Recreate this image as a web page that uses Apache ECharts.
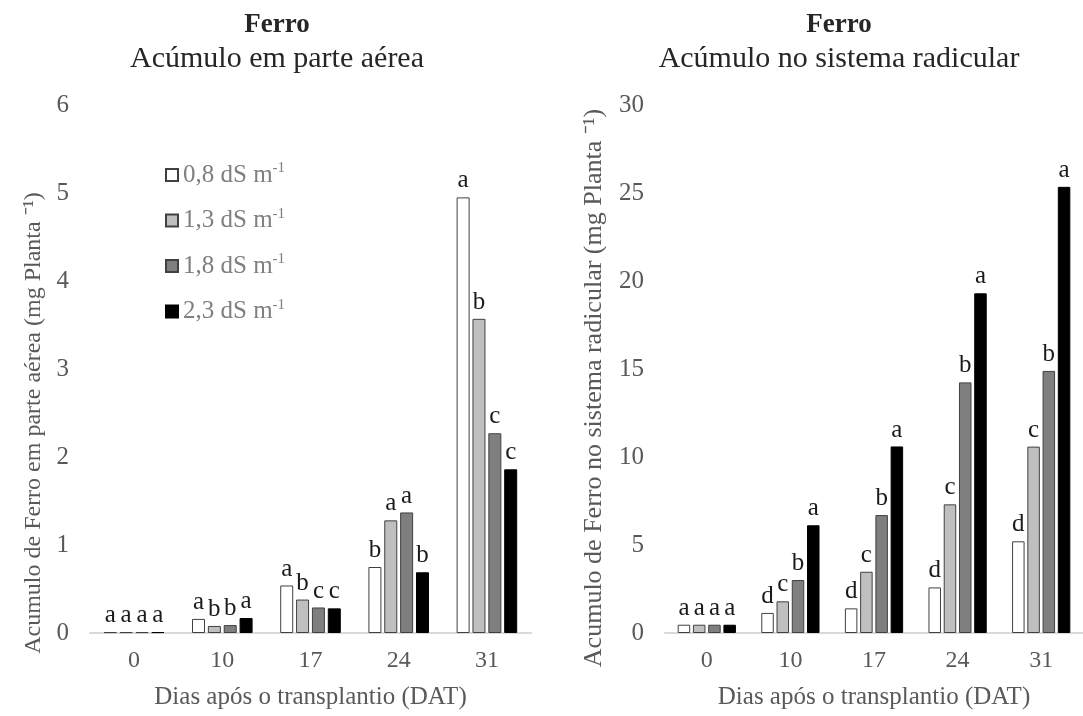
<!DOCTYPE html>
<html>
<head>
<meta charset="utf-8">
<script src="https://cdn.jsdelivr.net/npm/echarts@6/dist/echarts.min.js"></script>
<style>html,body{margin:0;padding:0;background:#fff}#c{width:1083px;height:716px}</style>
</head>
<body>
<div id="c"></div>
<script>
const categories = ['0', '10', '17', '24', '31'];
const seriesNames = ['0,8 dS m-1', '1,3 dS m-1', '1,8 dS m-1', '2,3 dS m-1'];

// Shoot (parte aérea) Fe accumulation, mg/plant
const shoot08 = [0.01, 0.16, 0.54, 0.75, 4.95];
const shoot13 = [0.01, 0.08, 0.38, 1.28, 3.57];
const shoot18 = [0.01, 0.09, 0.29, 1.37, 2.27];
const shoot23 = [0.01, 0.17, 0.28, 0.69, 1.86];
const shootLetters08 = ['a', 'a', 'a', 'b', 'a'];
const shootLetters13 = ['a', 'b', 'b', 'a', 'b'];
const shootLetters18 = ['a', 'b', 'c', 'a', 'c'];
const shootLetters23 = ['a', 'a', 'c', 'b', 'c'];

// Root (sistema radicular) Fe accumulation, mg/plant
const root08 = [0.47, 1.14, 1.40, 2.59, 5.21];
const root13 = [0.47, 1.80, 3.48, 7.31, 10.59];
const root18 = [0.47, 3.01, 6.70, 14.24, 14.89];
const root23 = [0.47, 6.12, 10.60, 19.30, 25.35];
const rootLetters08 = ['a', 'd', 'd', 'd', 'd'];
const rootLetters13 = ['a', 'c', 'c', 'c', 'c'];
const rootLetters18 = ['a', 'b', 'b', 'b', 'b'];
const rootLetters23 = ['a', 'a', 'a', 'a', 'a'];

const shootTicks = [0, 6, 1];
const rootTicks = [0, 30, 5];

const fills = ['#ffffff', '#bfbfbf', '#7f7f7f', '#000000'];
const borders = ['#404040', '#404040', '#404040', '#000000'];

const FONT = '"Liberation Serif", "Times New Roman", serif';

function mkSeries(name, idx, data, letters, axisIndex, bw) {
  return {
    type: 'bar',
    name: name,
    xAxisIndex: axisIndex,
    yAxisIndex: axisIndex,
    data: data,
    barWidth: bw,
    barGap: '22%',
    itemStyle: { color: fills[idx], borderColor: borders[idx], borderWidth: 1 },
    label: {
      show: true,
      position: 'top',
      distance: 4,
      fontFamily: FONT,
      fontSize: 25,
      color: '#1a1a1a',
      formatter: function (p) { return letters[p.dataIndex]; }
    },
    emphasis: { disabled: true },
    animation: false
  };
}

function xAx(gi) {
  return {
    type: 'category',
    gridIndex: gi,
    data: categories,
    axisLine: { lineStyle: { color: '#d9d9d9', width: 2 } },
    axisTick: { show: false },
    axisLabel: { fontFamily: FONT, fontSize: 24, color: '#595959', margin: 16 },
    name: 'Dias após o transplantio (DAT)',
    nameLocation: 'middle',
    nameGap: 52,
    nameTextStyle: { fontFamily: FONT, fontSize: 25, color: '#595959' }
  };
}
function yAx(gi, t) {
  return {
    type: 'value',
    gridIndex: gi,
    min: t[0], max: t[1], interval: t[2],
    axisLine: { show: false },
    axisTick: { show: false },
    splitLine: { show: false },
    axisLabel: { fontFamily: FONT, fontSize: 25, color: '#595959', margin: 21 }
  };
}

const chart = echarts.init(document.getElementById('c'), null, { renderer: 'canvas' });
chart.setOption({
  backgroundColor: '#fff',
  animation: false,
  title: [
    { text: 'Ferro', subtext: 'Acúmulo em parte aérea', left: 272, top: 7, textAlign: 'center', itemGap: 5,
      textStyle: { fontFamily: FONT, fontSize: 27, fontWeight: 'bold', color: '#262626' },
      subtextStyle: { fontFamily: FONT, fontSize: 30, color: '#262626' } },
    { text: 'Ferro', subtext: 'Acúmulo no sistema radicular', left: 834, top: 7, textAlign: 'center', itemGap: 5,
      textStyle: { fontFamily: FONT, fontSize: 27, fontWeight: 'bold', color: '#262626' },
      subtextStyle: { fontFamily: FONT, fontSize: 30, color: '#262626' } }
  ],
  legend: {
    orient: 'vertical',
    left: 160,
    top: 156,
    itemWidth: 12,
    itemHeight: 12,
    itemGap: 19,
    icon: 'rect',
    data: seriesNames,
    selectedMode: false,
    formatter: function (n) { const p = n.split(' m-1'); return '{t|' + p[0] + ' m}{s|-1}'; },
    textStyle: {
      rich: {
        t: { fontFamily: FONT, fontSize: 25, color: '#7f7f7f' },
        s: { fontFamily: FONT, fontSize: 15, color: '#7f7f7f', verticalAlign: 'top', padding: [0, 0, 13, 0] }
      }
    }
  },
  grid: [
    { left: 90, width: 441, top: 105, height: 528 },
    { left: 665, width: 426, top: 105, height: 528 }
  ],
  xAxis: [xAx(0), xAx(1)],
  yAxis: [yAx(0, shootTicks), yAx(1, rootTicks)],
  graphic: [
    { type: 'text', x: 34, y: 423, rotation: Math.PI / 2, style: { text: 'Acumulo de Ferro em parte aérea (mg Planta ⁻¹)', fontFamily: FONT, fontSize: 24, fill: '#595959', textAlign: 'center', textVerticalAlign: 'middle' } },
    { type: 'text', x: 594, y: 388, rotation: Math.PI / 2, style: { text: 'Acumulo de Ferro no sistema radicular (mg Planta ⁻¹)', fontFamily: FONT, fontSize: 26, fill: '#595959', textAlign: 'center', textVerticalAlign: 'middle' } }
  ],
  series: [
    mkSeries(seriesNames[0], 0, shoot08, shootLetters08, 0, 13),
    mkSeries(seriesNames[1], 1, shoot13, shootLetters13, 0, 13),
    mkSeries(seriesNames[2], 2, shoot18, shootLetters18, 0, 13),
    mkSeries(seriesNames[3], 3, shoot23, shootLetters23, 0, 13),
    mkSeries(seriesNames[0], 0, root08, rootLetters08, 1, 12.5),
    mkSeries(seriesNames[1], 1, root13, rootLetters13, 1, 12.5),
    mkSeries(seriesNames[2], 2, root18, rootLetters18, 1, 12.5),
    mkSeries(seriesNames[3], 3, root23, rootLetters23, 1, 12.5)
  ]
});
</script>
</body>
</html>
